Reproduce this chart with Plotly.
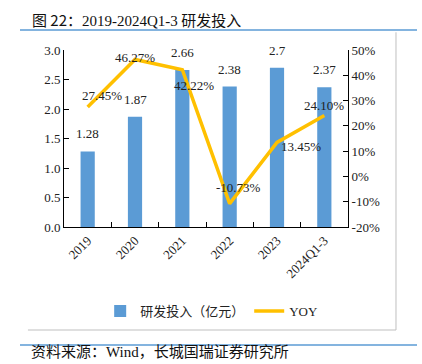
import plotly.graph_objects as go

categories = ["2019", "2020", "2021", "2022", "2023", "2024Q1-3"]
rd_invest = [1.28, 1.87, 2.66, 2.38, 2.7, 2.37]
yoy = [27.45, 46.27, 42.22, -10.73, 13.45, 24.10]
yoy_labels = ["27.45%", "46.27%", "42.22%", "-10.73%", "13.45%", "24.10%"]
left_ticks = [0.0, 0.5, 1.0, 1.5, 2.0, 2.5, 3.0]
right_ticks = [-20, -10, 0, 10, 20, 30, 40, 50]
right_tick_text = ["-20%", "-10%", "0%", "10%", "20%", "30%", "40%", "50%"]

SERIF = "Liberation Serif, Times New Roman, Noto Sans CJK SC, serif"
CJK = "Noto Sans CJK SC, sans-serif"
BLUE = "#5B9BD5"
GOLD = "#FFC000"

fig = go.Figure()
fig.add_trace(go.Bar(x=categories, y=rd_invest, name="研发投入（亿元）",
                     marker=dict(color=BLUE, line=dict(width=0)), width=0.3,
                     yaxis="y"))
fig.add_trace(go.Scatter(x=categories, y=yoy, name="YOY", mode="lines",
                         line=dict(color=GOLD, width=3.5), yaxis="y2"))

# bar value labels
for i, v in enumerate(rd_invest):
    fig.add_annotation(x=i, y=v, xref="x", yref="y", text=f"{v:g}", showarrow=False,
                       yanchor="bottom", yshift=8,
                       font=dict(family=SERIF, size=13, color="#222"))

# yoy labels with offsets
offs = [(14, 12), (0, 2), (12, -16), (9, 16), (24, -4), (0, 10)]
for i, (v, t) in enumerate(zip(yoy, yoy_labels)):
    dx, dy = offs[i]
    fig.add_annotation(x=i, y=v, xref="x", yref="y2", text=t, showarrow=False,
                       xshift=dx, yshift=dy,
                       font=dict(family=SERIF, size=13, color="#222"))

# title & source
fig.add_annotation(xref="paper", yref="paper", x=-0.12, y=1.175, xanchor="left",
                   yanchor="middle", showarrow=False,
                   text="图 22：<span style='font-family:Liberation Serif'>2019-2024Q1-3</span> 研发投入",
                   font=dict(family=CJK, size=15, color="#111"))
fig.add_annotation(xref="paper", yref="paper", x=-0.12, y=-0.765, xanchor="left",
                   yanchor="bottom", showarrow=False, borderpad=0,
                   text="资料来源：<span style='font-family:Liberation Serif'>Wind</span>，长城国瑞证券研究所",
                   font=dict(family=CJK, size=15, color="#111"))

shapes = [
    dict(type="line", xref="paper", yref="paper", x0=-0.155, x1=1.243, y0=1.113, y1=1.113,
         line=dict(color=BLUE, width=1.5)),
    dict(type="line", xref="paper", yref="paper", x0=1.169, x1=1.169, y0=1.10, y1=-0.582,
         line=dict(color="#BFBFBF", width=1)),
    dict(type="line", xref="paper", yref="paper", x0=-0.127, x1=1.169, y0=-0.582, y1=-0.582,
         line=dict(color="#BFBFBF", width=1)),
    dict(type="line", xref="paper", yref="paper", x0=-0.155, x1=1.243, y0=-0.667, y1=-0.667,
         line=dict(color=BLUE, width=1.5)),
]

fig.update_layout(
    width=422, height=364,
    margin=dict(l=64, r=74, t=50, b=137),
    paper_bgcolor="white", plot_bgcolor="white",
    shapes=shapes,
    showlegend=True,
    legend=dict(orientation="h", x=0.52, xanchor="center", y=-0.475, yanchor="middle",
                font=dict(family=SERIF, size=13, color="#222"), itemwidth=30,
                bgcolor="rgba(0,0,0,0)"),
    xaxis=dict(type="category", range=[-0.5, 5.5], showline=True, linecolor="black", linewidth=1,
               ticks="inside", ticklen=5, tickcolor="black", tickson="boundaries",
               tickangle=-45, tickfont=dict(family=SERIF, size=13, color="#222"),
               showgrid=False, mirror=False, automargin=False),
    yaxis=dict(range=[0, 3], tickvals=left_ticks, tickformat=".1f",
               showline=True, linecolor="black", linewidth=1, automargin=False,
               ticks="inside", ticklen=5, tickcolor="black", showgrid=False, zeroline=False,
               tickfont=dict(family=SERIF, size=13, color="#222")),
    yaxis2=dict(range=[-20, 50], tickvals=right_ticks, ticktext=right_tick_text,
                overlaying="y", side="right", showline=True, linecolor="black", linewidth=1,
                automargin=False,
                ticks="inside", ticklen=5, tickcolor="black", showgrid=False, zeroline=False,
                tickfont=dict(family=SERIF, size=13, color="#222")),
)

fig.write_html("out.html", config={"displayModeBar": False},
               post_script="document.body.style.margin='0px';")
